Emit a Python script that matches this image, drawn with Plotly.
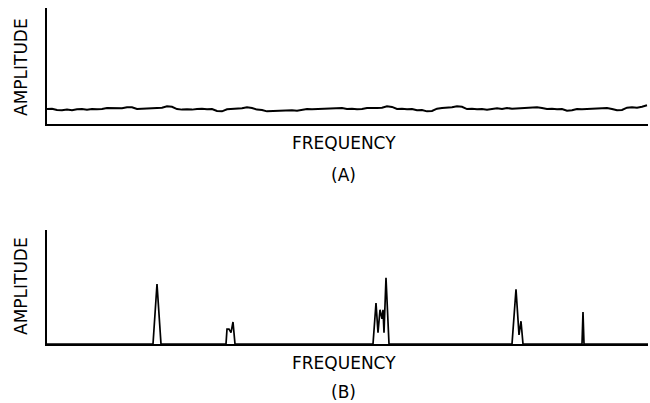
import plotly.graph_objects as go

W, H = 650, 403

# Panel A: broadband noise spectrum (frequency units 0..600, step 5; amplitude 0..100)
noise_amp = [12.9, 13.2, 12.1, 11.8, 12.4, 11.8, 12.7, 12.9, 12.4, 12.9,
             12.7, 12.9, 13.8, 13.5, 13.8, 13.5, 14.4, 14.4, 12.9, 13.2,
             13.8, 13.5, 13.8, 14.1, 15.2, 14.9, 12.9, 12.4, 12.7, 12.4,
             12.9, 13.2, 12.7, 12.9, 11.2, 10.9, 12.7, 12.9, 12.7, 13.5,
             14.4, 13.8, 12.4, 12.1, 10.9, 11.2, 10.9, 11.2, 11.5, 11.8,
             11.5, 12.1, 12.9, 12.7, 12.9, 13.2, 13.8, 13.5, 13.8, 13.8,
             12.9, 13.2, 12.7, 12.9, 13.8, 13.5, 13.8, 14.1, 15.2, 14.7,
             12.9, 13.2, 12.7, 12.9, 11.8, 12.1, 10.9, 11.2, 13.2, 13.8,
             13.8, 14.4, 15.2, 14.9, 12.9, 13.2, 12.7, 12.9, 12.4, 12.7,
             13.5, 12.9, 13.8, 13.2, 13.5, 13.8, 14.4, 14.1, 14.4, 13.8,
             12.9, 13.2, 12.7, 12.9, 11.5, 11.8, 12.9, 12.7, 12.9, 13.2,
             13.8, 13.5, 13.8, 12.9, 11.8, 12.1, 14.1, 14.4, 14.1, 14.9, 16.1]
noise_freq = [5 * i for i in range(len(noise_amp))]

# Panel B: line spectrum
line_freq = [0, 106, 110, 114, 179, 180, 182, 184, 186, 188,
             326, 329, 331, 333, 335, 336, 337, 339, 342,
             465, 469, 472, 474, 476, 535, 536, 537, 601]
line_amp = [0, 0, 52.6, 0, 0, 13, 13, 10, 19.3, 0,
            0, 36, 10, 30, 22, 30, 10, 58, 0,
            0, 48, 8, 20, 0, 0, 28, 0, 0]

y_label = "AMPLITUDE"
x_label = "FREQUENCY"
panel_labels = ["(A)", "(B)"]

def px(x):
    return x / W

def py(y):
    return 1 - y / H

fig = go.Figure()
fig.add_trace(go.Scatter(x=noise_freq, y=noise_amp, mode="lines",
                         line=dict(color="black", width=2), xaxis="x", yaxis="y",
                         showlegend=False, hoverinfo="skip"))
fig.add_trace(go.Scatter(x=line_freq, y=line_amp, mode="lines",
                         line=dict(color="black", width=1.7), xaxis="x2", yaxis="y2",
                         showlegend=False, hoverinfo="skip"))

axcommon = dict(showgrid=False, zeroline=False, showticklabels=False, ticks="",
                showline=True, linecolor="black", linewidth=1.8)

fig.update_layout(
    width=W, height=H, margin=dict(l=0, r=0, t=0, b=0),
    paper_bgcolor="white", plot_bgcolor="white",
    xaxis=dict(domain=[px(47), px(648)], range=[0, 601], anchor="y", **axcommon),
    yaxis=dict(domain=[py(124), py(8)], range=[0, 100], anchor="x", **axcommon),
    xaxis2=dict(domain=[px(47), px(648)], range=[0, 601], anchor="y2", **axcommon),
    yaxis2=dict(domain=[py(344), py(230)], range=[0, 100], anchor="x2", **axcommon),
)

font = dict(family="DejaVu Sans", size=17, color="black")
ann = []
def add_text(x, y, text, angle=0):
    ann.append(dict(x=px(x), y=py(y), xref="paper", yref="paper", text=text,
                    textangle=angle, showarrow=False, font=font,
                    xanchor="center", yanchor="middle"))

for cy in (67, 286):
    add_text(21, cy, y_label, -90)
for cy in (143, 363):
    add_text(344, cy, x_label)
for cy, t in zip((175, 392), panel_labels):
    add_text(343, cy, t)
fig.update_layout(annotations=ann)

fig.write_html("out.html", config={"displayModeBar": False},
               post_script="document.body.style.margin='0';document.body.style.overflow='hidden';")
